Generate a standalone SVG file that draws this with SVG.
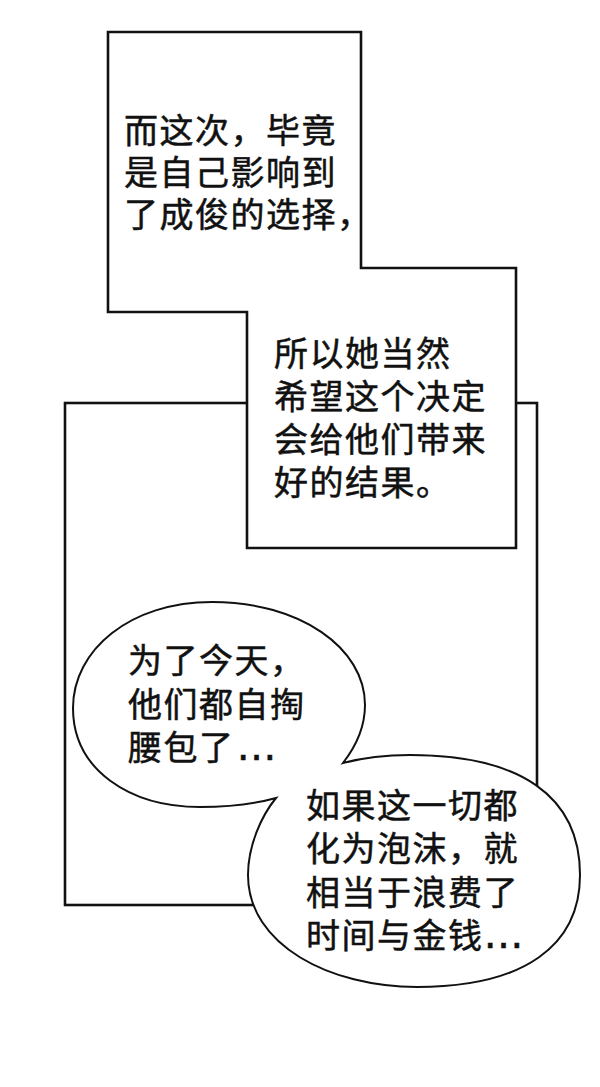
<svg xmlns="http://www.w3.org/2000/svg" width="600" height="1087" viewBox="0 0 600 1087">
<style>
.frame{fill:#fff;stroke:#111;stroke-width:2.6;stroke-linejoin:miter}
.bubble{fill:#fff;stroke:#111;stroke-width:2;stroke-linejoin:miter}
.t{font-family:"Noto Sans CJK SC","Noto Sans CJK JP",sans-serif;font-size:34px;letter-spacing:1.5px;fill:#111;stroke:#111;stroke-width:0.5px}
.dots{font-family:"DejaVu Sans","Liberation Sans",sans-serif;font-size:40px;letter-spacing:0}
</style>
<rect x="0" y="0" width="600" height="1087" fill="#fff"/>
<g id="panel">
<rect class="frame" x="65" y="403" width="472" height="502"/>
</g>
<g id="caption">
<path class="frame" d="M108,32 H361 V268 H516 V548 H247 V312 H108 Z"/>
<text class="t" x="124" y="143">而这次，毕竟</text>
<text class="t" x="124" y="185">是自己影响到</text>
<text class="t" x="124" y="227">了成俊的选择，</text>
<text class="t" x="274" y="366">所以她当然</text>
<text class="t" x="274" y="409">希望这个决定</text>
<text class="t" x="274" y="452">会给他们带来</text>
<text class="t" x="274" y="495">好的结果。</text>
</g>
<g id="bubbles">
<path class="bubble" d="M343,763 C357,745 365,726 365,705 C365,648 300,602 212,602 C130,602 73,650 73,708 C73,770 130,807 200,807 C235,807 258,803 276,798 C262,815 248,845 248,875 C248,945 330,987 417,987 C525,987 580,945 580,875 C580,796 520,755 410,755 C385,755 362,758 343,763 Z"/>
<text class="t" x="128" y="673">为了今天，</text>
<text class="t" x="128" y="717">他们都自掏</text>
<text class="t" x="128" y="760">腰包了<tspan class="dots" dx="2">…</tspan></text>
<text class="t" x="306" y="818">如果这一切都</text>
<text class="t" x="306" y="861">化为泡沫，就</text>
<text class="t" x="306" y="905">相当于浪费了</text>
<text class="t" x="306" y="948">时间与金钱<tspan class="dots" dx="0">…</tspan></text>
</g>
</svg>
